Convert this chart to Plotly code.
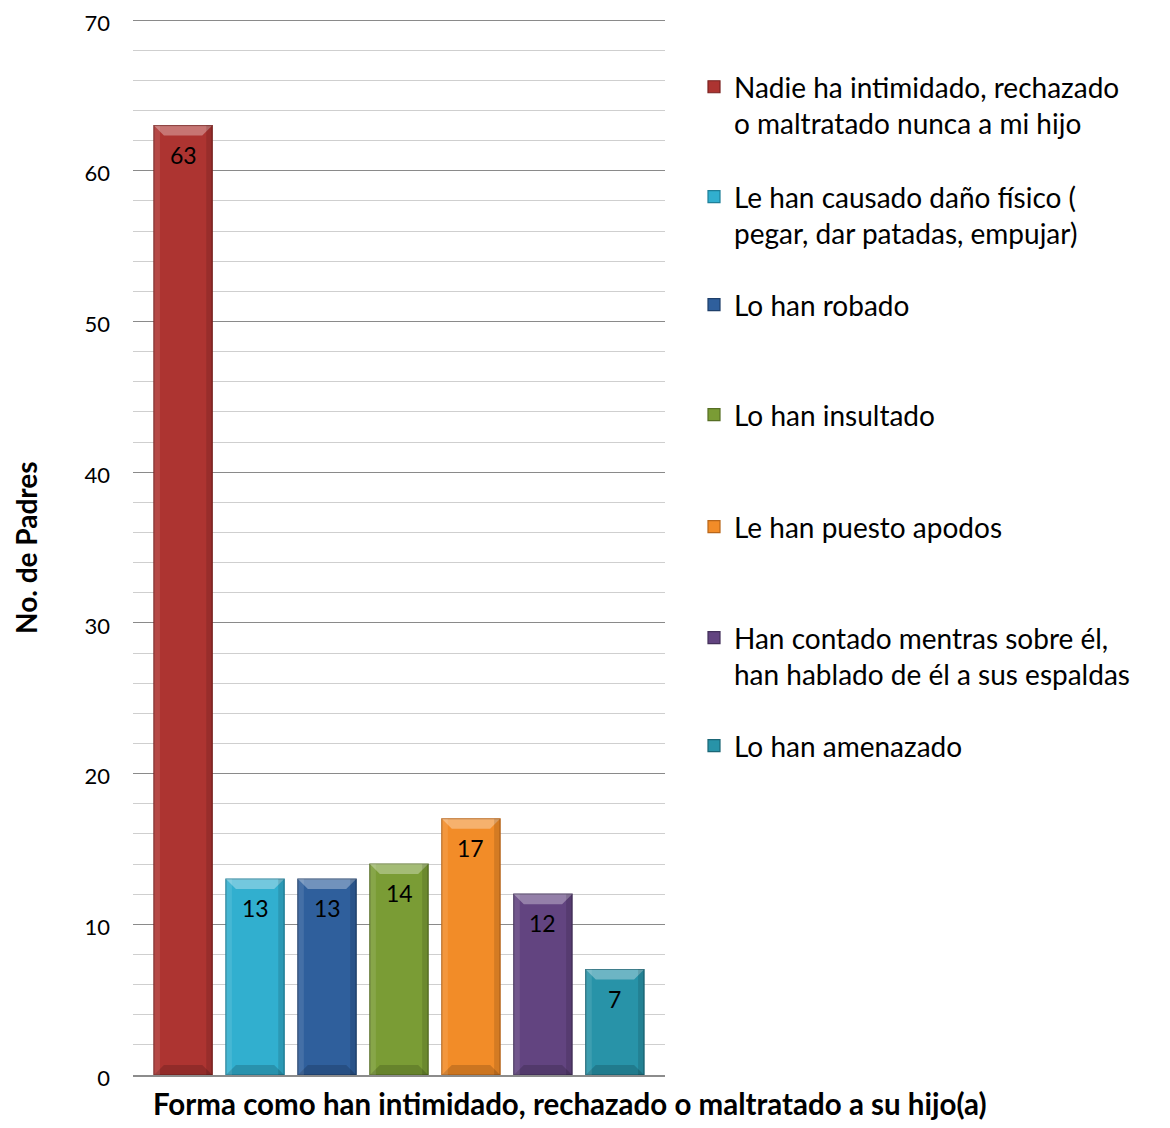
import plotly.graph_objects as go

categories = [
    "Nadie ha intimidado, rechazado<br>o maltratado nunca a mi hijo",
    "Le han causado daño físico (<br>pegar, dar patadas, empujar)",
    "Lo han robado",
    "Lo han insultado",
    "Le han puesto apodos",
    "Han contado mentras sobre él,<br>han hablado de él a sus espaldas",
    "Lo han amenazado",
]
values = [63, 13, 13, 14, 17, 12, 7]
colors = ["#AD3431", "#31AFCF", "#2F5F9C", "#7A9C35", "#F28C28", "#624480", "#2893A8"]
edge_colors = ["#7A2220", "#1F7F98", "#1E3F6A", "#566E24", "#B8661A", "#43305A", "#1B6676"]
x_title = "Forma como han intimidado, rechazado o maltratado a su hijo(a)"
y_title = "No. de Padres"
group_label = ["Forma"]
y_max_tick = 70

# legend entry vertical centres (page pixels) - layout only
legend_centers = [105, 215, 305, 415, 527, 656, 746]

FONT = "Lato"
BARGAP, BARGROUPGAP = 0.053, 0.19

# page body has an 8px margin; figure sized to fit inside the window
OFF = 8
W, H = 1170 - OFF, 1128 - 2 * OFF
Y_TOP = y_max_tick + 0.4            # small headroom so the top gridline is drawn
unit = (1075 - 20) / y_max_tick     # pixels per unit (70 at page y=20, 0 at 1075)
PL, PR, PB = 133, 665, 1075
PT = PB - Y_TOP * unit
L, T = PL - OFF, PT - OFF
pw, ph = PR - PL, PB - PT
R, B = W - L - pw, H - T - ph


def px_x(p):
    return (p - OFF - L) / pw


def px_y(p):
    return 1 - (p - OFF - T) / ph


n = len(values)
slot = (1 - BARGAP) / n
half_w_px = slot * (1 - BARGROUPGAP) * pw / 2
bev = 10

fig = go.Figure()
legend_layouts = {}
annotations = []
shapes = []
for i, (name, v, c, ec) in enumerate(zip(categories, values, colors, edge_colors)):
    lg = "legend" if i == 0 else f"legend{i + 1}"
    fig.add_trace(go.Bar(
        x=group_label, y=[v], name=name,
        marker=dict(color=c, line=dict(color=ec, width=1.2)),
        legend=lg,
        cliponaxis=False,
    ))
    legend_layouts[lg] = dict(
        x=px_x(694), y=px_y(legend_centers[i]), xanchor="left", yanchor="middle",
        font=dict(family=FONT, size=28, color="black"),
        valign="top", itemwidth=30, bgcolor="rgba(0,0,0,0)",
    )
    xc = (i - (n - 1) / 2) * slot
    hw = half_w_px
    shapes.append(dict(
        type="path", xref="x", yref="y", xsizemode="pixel", ysizemode="pixel",
        xanchor=xc, yanchor=v,
        path=f"M{-hw},0 L{hw},0 L{hw - bev},{-bev} L{-hw + bev},{-bev} Z",
        fillcolor="rgba(255,255,255,0.32)", line=dict(width=0), layer="above"))
    shapes.append(dict(
        type="path", xref="x", yref="y", xsizemode="pixel", ysizemode="pixel",
        xanchor=xc, yanchor=0,
        path=f"M{-hw},0 L{hw},0 L{hw - bev},{bev} L{-hw + bev},{bev} Z",
        fillcolor="rgba(0,0,0,0.16)", line=dict(width=0), layer="above"))
    shapes.append(dict(
        type="rect", xref="x", yref="y", xsizemode="pixel",
        xanchor=xc, x0=hw - 6, x1=hw, y0=0, y1=v,
        fillcolor="rgba(0,0,0,0.12)", line=dict(width=0), layer="above"))
    shapes.append(dict(
        type="rect", xref="x", yref="y", xsizemode="pixel",
        xanchor=xc, x0=-hw, x1=-hw + 6, y0=0, y1=v,
        fillcolor="rgba(255,255,255,0.10)", line=dict(width=0), layer="above"))
    annotations.append(dict(
        text=str(v), x=xc, y=v, xref="x", yref="y",
        xanchor="center", yanchor="middle", yshift=-29, showarrow=False,
        font=dict(family=FONT, size=23, color="black")))

annotations += [
    dict(text=f"<b>{y_title}</b>", textangle=-90, xref="paper", yref="paper",
         x=px_x(26), y=px_y(548), xanchor="center", yanchor="middle",
         showarrow=False, font=dict(family=FONT, size=28, color="black")),
    dict(text=f"<b>{x_title}</b>", xref="paper", yref="paper",
         x=px_x(570), y=px_y(1104), xanchor="center", yanchor="middle",
         showarrow=False, font=dict(family=FONT, size=29.5, color="black")),
]
# dark border strip at the right edge of the reference picture
shapes.append(dict(type="rect", xref="paper", yref="paper",
                   x0=px_x(1162), x1=px_x(1180), y0=px_y(1130), y1=px_y(-2),
                   fillcolor="black", line=dict(width=0), layer="above"))

fig.update_layout(
    width=W, height=H,
    margin=dict(l=L, r=R, t=T, b=B, autoexpand=False),
    paper_bgcolor="white", plot_bgcolor="white",
    barmode="group", bargap=BARGAP, bargroupgap=BARGROUPGAP,
    font=dict(family=FONT, size=22, color="black"),
    showlegend=True,
    xaxis=dict(
        showticklabels=False, showgrid=False, zeroline=False,
        showline=True, linecolor="#8c8c8c", linewidth=1.5,
        range=[-0.5, 0.5], automargin=False,
    ),
    yaxis=dict(
        range=[0, Y_TOP], dtick=10, tick0=0,
        showgrid=True, gridcolor="#8a8a8a", gridwidth=1.3,
        minor=dict(dtick=2, showgrid=True, gridcolor="#cfcfcf", gridwidth=1.3),
        zeroline=False, showline=False, automargin=False,
        ticks="", ticklabelstandoff=22, ticklabelshift=3,
        ticklabeloverflow="allow",
        tickfont=dict(family=FONT, size=22, color="black"),
    ),
    annotations=annotations,
    shapes=shapes,
    **legend_layouts,
)

fig.write_html("out.html")
